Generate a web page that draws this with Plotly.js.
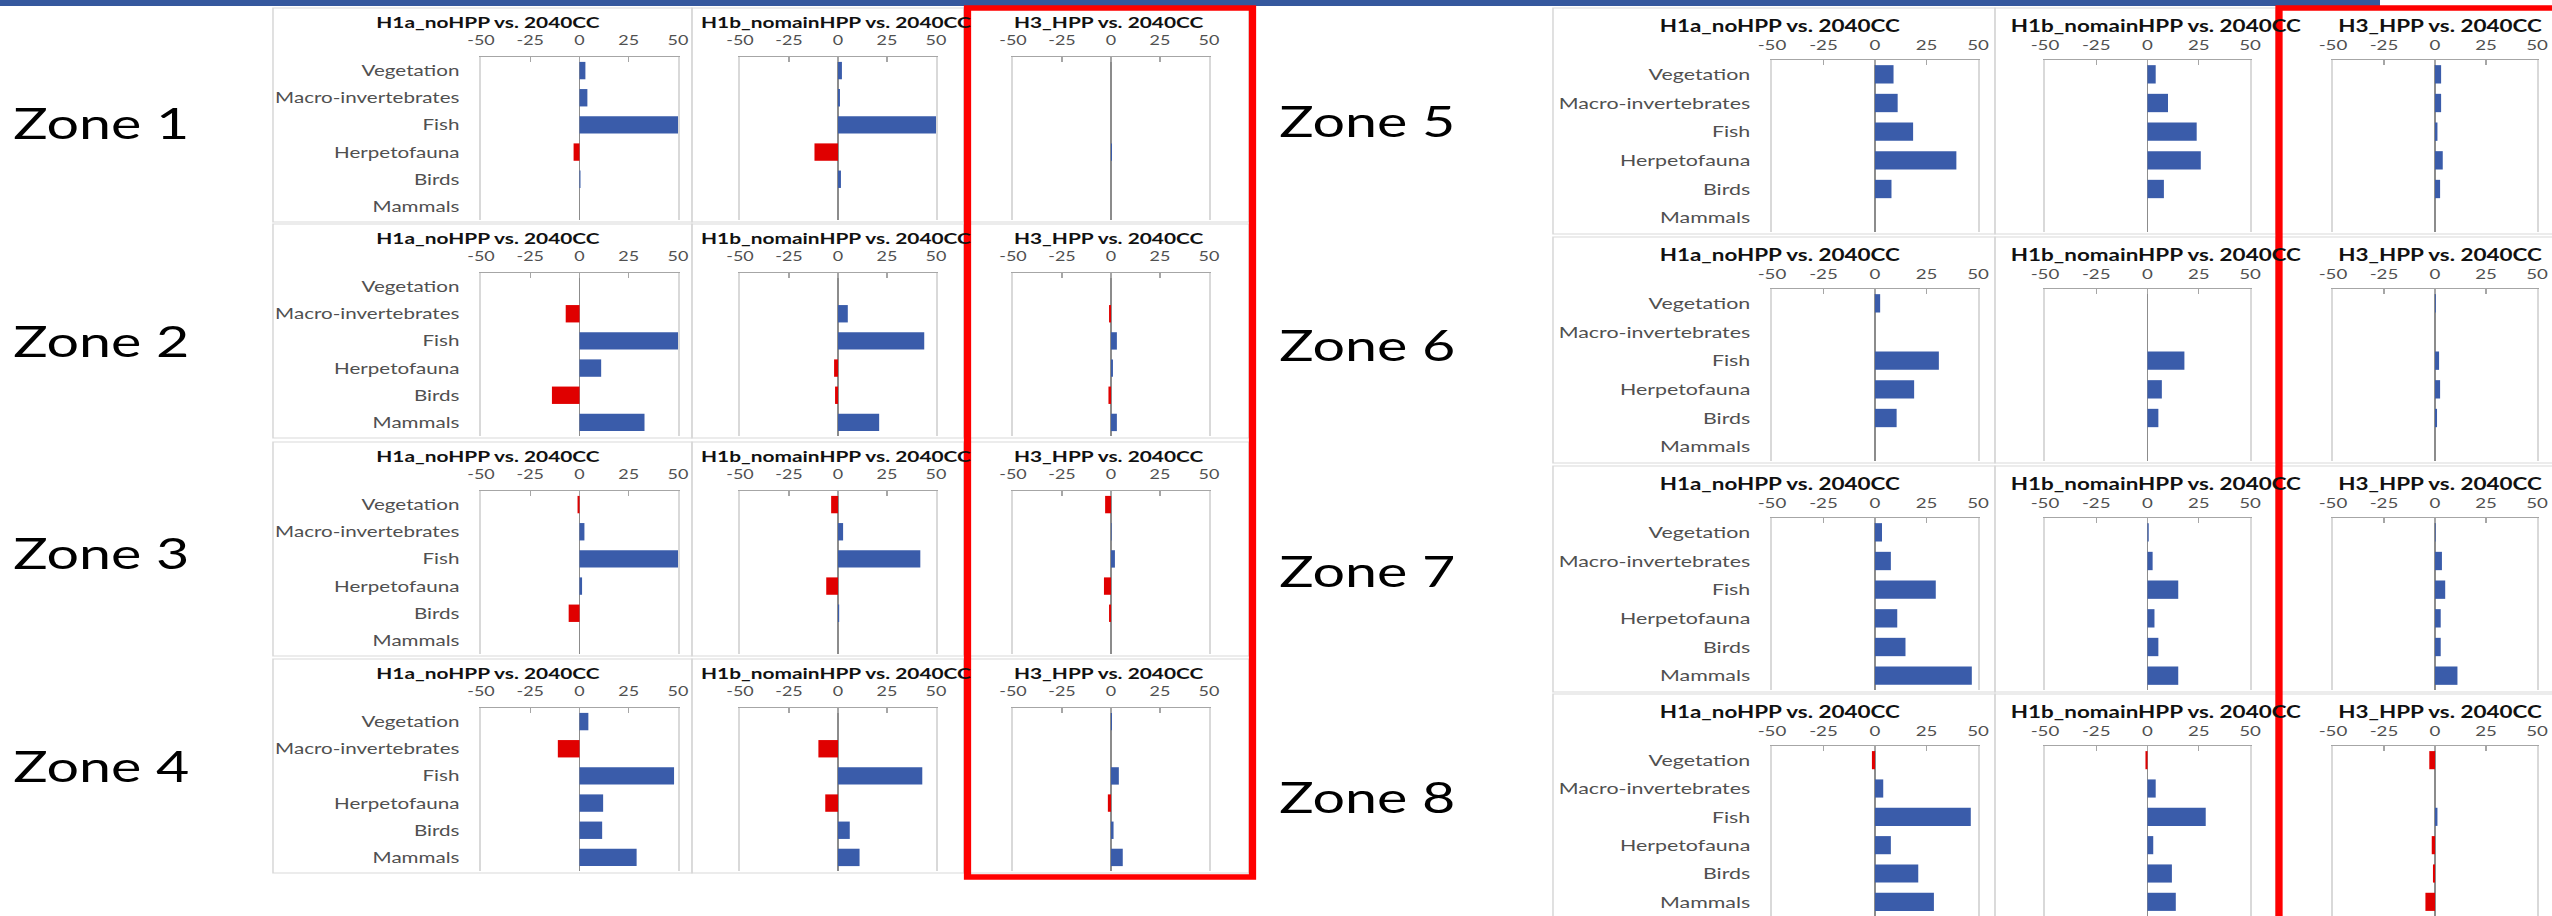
<!DOCTYPE html>
<html><head><meta charset="utf-8">
<script src="https://cdn.plot.ly/plotly-3.0.1.min.js"></script>
<style>
html,body{margin:0;padding:0;background:#fff;overflow:hidden;}
#wrap{width:2552px;height:916px;overflow:hidden;position:relative;background:#fff;}
#chart{position:absolute;left:0;top:0;transform-origin:0 0;}
</style></head><body>
<div id="wrap"><div id="chart"></div></div>
<script>
// ---------- data ----------
const categories = ['Vegetation','Macro-invertebrates','Fish','Herpetofauna','Birds','Mammals'];
const scenarioTitles = ['H1a_noHPP vs. 2040CC','H1b_nomainHPP vs. 2040CC','H3_HPP vs. 2040CC'];
const zoneLabels = ['Zone 1','Zone 2','Zone 3','Zone 4','Zone 5','Zone 6','Zone 7','Zone 8'];
const tickValues = [-50,-25,0,25,50];
const tickLabels = ['-50','-25','0','25','50'];

// change per zone (rows: Zone 1..8; columns follow categories)
const h1aNoHPP = [
  [3, 4, 50, -3, 0.5, 0],
  [0, -7, 50, 11, -14, 33],
  [-1, 2.5, 50, 1.3, -5.5, 0],
  [4.5, -11, 48, 12, 11.5, 29],
  [9, 11, 18.5, 39.5, 8, 0],
  [2.5, 0, 31, 19, 10.5, 0],
  [3.4, 7.7, 29.5, 10.8, 14.8, 47],
  [-1.5, 4, 46.5, 7.7, 21, 28.6]
];
const h1bNomainHPP = [
  [2, 1, 50, -12, 1.5, 0],
  [0, 5, 44, -2, -1.5, 21],
  [-3.5, 2.6, 42, -6, 0.6, 0],
  [0, -10, 43, -6.5, 6, 11],
  [4, 10, 24, 26, 8, 0],
  [0, 0, 18, 7, 5.3, 0],
  [0.6, 2.5, 15, 3.4, 5.3, 15],
  [-1, 4, 28.4, 2.8, 11.9, 13.8]
];
const h3HPP = [
  [0, 0, 0, 0.5, 0, 0],
  [0, -1, 3, 1, -1.3, 3],
  [-3, 0.3, 2, -3.6, -1, 0],
  [0.5, 0, 4, -1.6, 1.3, 6],
  [3, 3, 1.2, 3.8, 2.5, 0],
  [0.4, 0, 2, 2.5, 1, 0],
  [0.3, 3.4, 5, 2.8, 2.8, 11],
  [-2.8, 0, 1.2, -1.6, -1, -4.7]
];

// ---------- layout helpers ----------
const W = 2552, H = 916, STRETCH = 1.32;
const WU = Math.round(W / STRETCH);
const SX = W / WU;
const px = x => x / W;
const py = y => 1 - y / H;
const BLUE = '#3A5CAA', RED = '#E00000';
const FONT = 'Lato, "Open Sans", sans-serif';

const groups = [
  {zones:[0,1,2,3], plotX:[[481,678],[740,936],[1013,1209]], axisY:[57,273,491,708], plotH:163,
   boxX:[[273,692],[692,964],[964,1249]], boxTopOff:49, boxH:214, titleX:[489,836,1109], titleOff:36,
   tickStand:5, catSize:15.6, tickSize:13.6, titleSize:15.8, labelX:10, labelY:[122,340,552,765]},
  {zones:[4,5,6,7], plotX:[[1772,1978],[2045,2250],[2333,2537]], axisY:[60,289,518,746], plotH:172,
   boxX:[[1553,1995],[1995,2276],[2276,2620]], boxTopOff:52, boxH:226, titleX:[1780,2156,2440], titleOff:35,
   tickStand:3, catSize:16.2, tickSize:14.2, titleSize:17.0, labelX:1277, labelY:[120,344,570,796]}
];

const series = [h1aNoHPP, h1bNomainHPP, h3HPP];
const traces = [];
const layout = {
  width: WU, height: H, margin:{l:0,r:0,t:0,b:0,pad:0},
  paper_bgcolor:'#ffffff', plot_bgcolor:'rgba(0,0,0,0)', showlegend:false,
  bargap:0.36, font:{family:FONT, color:'#595959'},
  shapes:[], annotations:[]
};

let n = 0;
groups.forEach(g => {
  g.zones.forEach((z, r) => {
    const axTop = g.axisY[r];
    const bottom = Math.min(H, axTop + g.plotH);
    // zone label
    layout.annotations.push({xref:'paper', yref:'paper', x:px(g.labelX), y:py(g.labelY[r]),
      xanchor:'left', yanchor:'middle', showarrow:false, text:zoneLabels[z],
      font:{family:FONT, size:43.5, color:'#000000'}});
    series.forEach((ser, c) => {
      n++;
      const sfx = n === 1 ? '' : String(n);
      traces.push({
        type:'bar', orientation:'h', x:ser[z], y:categories,
        xaxis:'x'+sfx, yaxis:'y'+sfx,
        marker:{color:ser[z].map(v => v < 0 ? RED : BLUE), line:{width:0}},
        hoverinfo:'skip'
      });
      layout['xaxis'+sfx] = {
        domain:[px(g.plotX[c][0]), px(g.plotX[c][1])], anchor:'y'+sfx,
        range:[-50,50], side:'top', tickmode:'array', tickvals:tickValues, ticktext:tickLabels,
        ticks:'inside', ticklen:5, tickwidth:1, tickcolor:'#A6A6A6',
        showline:true, linecolor:'#A6A6A6', linewidth:1.2,
        showgrid:false, zeroline:true, zerolinecolor:'#8C8C8C', zerolinewidth:1.2,
        tickfont:{family:FONT, size:g.tickSize, color:'#505050'}, ticklabelstandoff:g.tickStand,
        fixedrange:true
      };
      layout['yaxis'+sfx] = {
        domain:[py(bottom), py(axTop)], anchor:'x'+sfx,
        type:'category', categoryorder:'array', categoryarray:categories, range:[5.5,-0.5],
        showline:true, mirror:true, linecolor:'#D9D9D9', linewidth:1.2,
        showgrid:false, zeroline:false, ticks:'', showticklabels:c === 0,
        tickfont:{family:FONT, size:g.catSize, color:'#505050'}, ticklabelstandoff:12,
        fixedrange:true
      };
      // sub-chart frame
      layout.shapes.push({type:'rect', xref:'paper', yref:'paper', layer:'below',
        x0:px(g.boxX[c][0]), x1:px(g.boxX[c][1]),
        y0:py(axTop - g.boxTopOff), y1:py(axTop - g.boxTopOff + g.boxH),
        line:{color:'#D9D9D9', width:1.2}, fillcolor:'rgba(0,0,0,0)'});
      // sub-chart title
      layout.annotations.push({xref:'paper', yref:'paper', x:px(g.titleX[c]), y:py(axTop - g.titleOff),
        xanchor:'center', yanchor:'middle', showarrow:false, text:'<b>'+scenarioTitles[c]+'</b>',
        font:{family:FONT, size:g.titleSize, color:'#111111'}});
    });
  });
});

// decorations: top band and red highlight boxes
layout.shapes.push({type:'rect', xref:'paper', yref:'paper', layer:'above',
  x0:0, x1:px(2380), y0:py(0), y1:py(6), line:{width:0}, fillcolor:'#35589E'});
layout.shapes.push({type:'rect', xref:'paper', yref:'paper', layer:'above',
  x0:px(967.5), x1:px(1252.5), y0:py(877), y1:py(8), line:{color:'#FF0000', width:5.5}, fillcolor:'rgba(0,0,0,0)'});
layout.shapes.push({type:'rect', xref:'paper', yref:'paper', layer:'above',
  x0:px(2279), x1:px(2700), y0:py(1000), y1:py(8), line:{color:'#FF0000', width:5.5}, fillcolor:'rgba(0,0,0,0)'});

const el = document.getElementById('chart');
el.style.width = WU + 'px';
el.style.height = H + 'px';
el.style.transform = 'scaleX(' + SX + ')';
Plotly.newPlot(el, traces, layout, {staticPlot:true, displayModeBar:false});
</script>
</body></html>
